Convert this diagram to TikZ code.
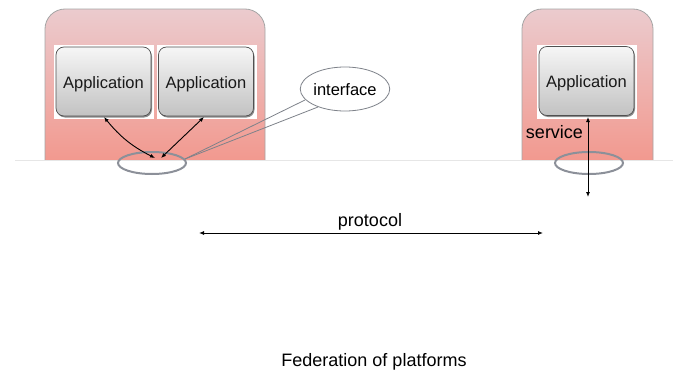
\documentclass[tikz,border=0pt]{standalone}
\usepackage{fontspec}
\setmainfont{Liberation Sans}
\usetikzlibrary{arrows.meta,shapes.geometric}
\definecolor{platTop}{HTML}{EBCBCE}
\definecolor{platBot}{HTML}{F2998F}
\definecolor{platEdge}{HTML}{A5A5A5}
\definecolor{ringGray}{HTML}{8C9099}
\definecolor{appTop}{HTML}{F6F6F6}
\definecolor{appBot}{HTML}{C2C2C2}
\definecolor{appEdge}{HTML}{505050}
\definecolor{floorLine}{HTML}{E6E6E6}
\newcommand{\lowtext}[2]{\smash{\raisebox{-#1}{#2}}}
\tikzset{
  platform/.style={rounded corners=20pt, top color=platTop, bottom color=platBot, draw=platEdge, line width=0.8pt},
  appbg/.style={rectangle, fill=white, minimum width=100pt, minimum height=74pt, inner sep=0pt},
  appbox/.style={rectangle, rounded corners=8pt, top color=appTop, bottom color=appBot, draw=appEdge, line width=0.7pt,
    minimum width=95pt, minimum height=69pt, inner sep=0pt, text=black!90, font=\fontsize{16.5}{18}\selectfont},
  appshadow/.style={rectangle, rounded corners=8pt, fill=black!45, minimum width=95pt, minimum height=69pt, inner sep=0pt},
  ring/.style={ellipse, draw=ringGray, line width=2pt, minimum width=68pt, minimum height=22pt, inner sep=0pt},
  callout/.style={ellipse, draw=ringGray!90!black, line width=0.8pt, fill=white, minimum width=88pt, minimum height=44pt, inner sep=0pt, font=\fontsize{16.5}{18}\selectfont},
  calltail/.style={draw=ringGray!90!black, line width=0.8pt},
  link/.style={{Latex[length=5pt,width=4pt]}-{Latex[length=5pt,width=4pt]}, line width=0.9pt, black},
  bigtext/.style={font=\fontsize{18}{20}\selectfont, inner sep=0pt, anchor=base}
}
\begin{document}
\begin{tikzpicture}[x=1pt,y=-1pt]
\useasboundingbox (0,0) rectangle (673,372);
% platforms
\path[platform] (45,160) -- (45,9) -- (265,9) -- (265,160);
\path[platform] (522,160) -- (522,9) -- (653,9) -- (653,160);
\draw[floorLine, line width=0.8pt] (15,160.5) -- (673,160.5);
% application boxes
\node[appbg] (bg1) at (104,82) {};
\node[appbg] (bg2) at (206.5,82) {};
\node[appbg] (bg3) at (587,81.5) {};
\node[appshadow] at (104.5,83) {};
\node[appshadow] at (207,83) {};
\node[appshadow] at (587.5,82.5) {};
\node[appbox] (a1) at (103.5,81.5) {\lowtext{6.6pt}{Application}};
\node[appbox] (a2) at (206,81.5) {\lowtext{6.6pt}{Application}};
\node[appbox] (a3) at (586.5,81) {\lowtext{6.6pt}{Application}};
% rings
\node[ring] (r1) at (152,163) {};
\node[ring] (r2) at (589,163) {};
% interface callout
\coordinate (tip) at (185,159);
\draw[calltail] (tip) -- (305,100);
\draw[calltail] (tip) -- (318,107);
\node[callout] (iface) at (345,89) {\lowtext{6pt}{interface}};
% arrows
\coordinate (c1) at (155,158);
\coordinate (c2) at (161,158);
\draw[link] (104,117) to[bend right=12] (c1);
\draw[link] (204,117) -- (c2);
\coordinate (sv) at (588,197);
\draw[link] (588,117) -- (sv);
\node[bigtext] (svc) at (554.5,138.5) {service};
% protocol
\coordinate (pl) at (199,233);
\coordinate (pr) at (543,233);
\draw[link] (pl) -- (pr);
\node[bigtext] (proto) at (370,226.5) {protocol};
\node[bigtext] (fed) at (374,366) {Federation of platforms};
\end{tikzpicture}
\end{document}
